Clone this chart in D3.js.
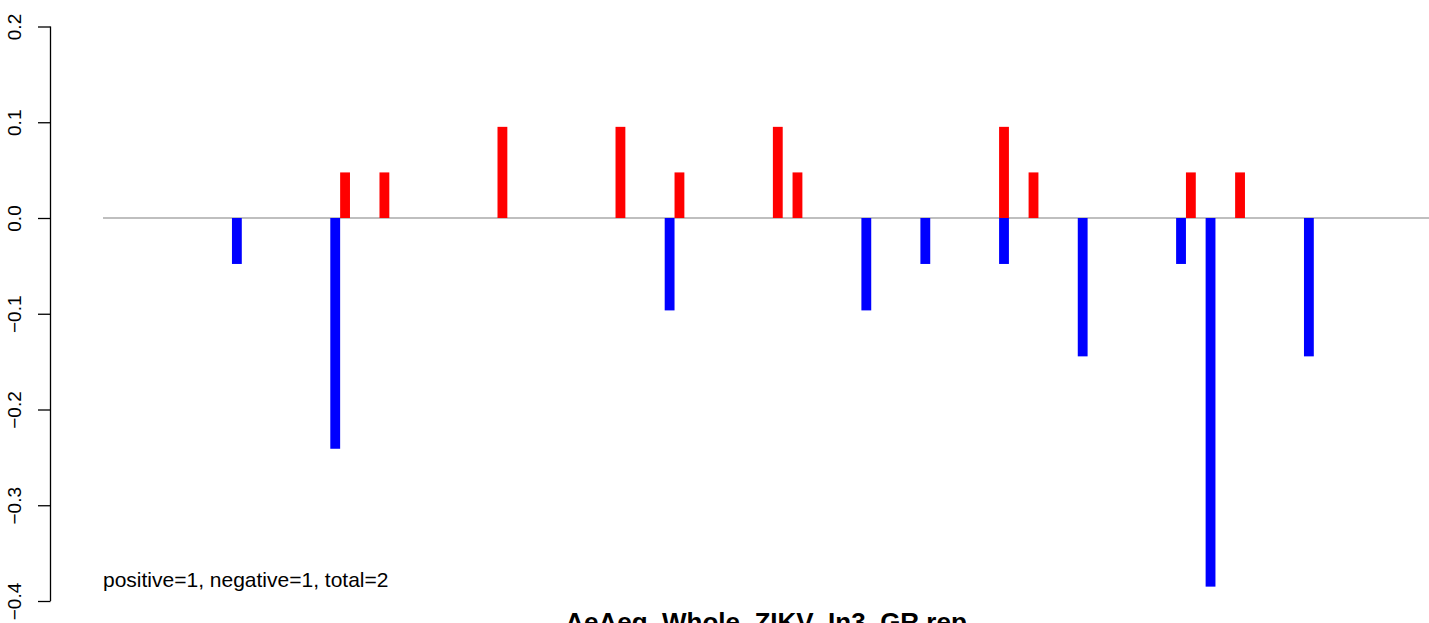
<!DOCTYPE html>
<html>
<head>
<meta charset="utf-8">
<script src="https://cdn.jsdelivr.net/npm/d3@7"></script>
<style>
  html, body { margin: 0; padding: 0; background: #fff; }
  svg { display: block; }
</style>
</head>
<body>
<svg id="chart" width="1429" height="623"></svg>
<script>
// ---- data ----
const title = "AeAeg_Whole_ZIKV_In3_GR.rep";
const note = "positive=1, negative=1, total=2";
const yTicks = [0.2, 0.1, 0.0, -0.1, -0.2, -0.3, -0.4];
const yTickLabels = ["0.2", "0.1", "0.0", "\u22120.1", "\u22120.2", "\u22120.3", "\u22120.4"];
const positivePositions = [24, 28, 40, 52, 58, 68, 70, 91, 94, 110, 115];
const positiveValues = [0.0476, 0.0476, 0.0952, 0.0952, 0.0476, 0.0952, 0.0476, 0.0952, 0.0476, 0.0476, 0.0476];
const negativePositions = [13, 23, 57, 77, 83, 91, 99, 109, 112, 122];
const negativeValues = [-0.048, -0.241, -0.0965, -0.0965, -0.048, -0.048, -0.1445, -0.048, -0.385, -0.1445];
const positionCount = 135;

// ---- layout ----
const svg = d3.select("#chart");
const x = d3.scaleLinear().domain([0, positionCount]).range([104.1, 104.1 + positionCount * 9.835]);
const y = d3.scaleLinear().domain([-0.4, 0.2]).range([601, 26.5]);
const font = "'Liberation Sans', Arial, Helvetica, sans-serif";

// zero line
svg.append("line")
  .attr("x1", 103).attr("x2", 1429)
  .attr("y1", y(0)).attr("y2", y(0))
  .attr("stroke", "#808080").attr("stroke-width", 1.2);

// bars
const bw = x(1) - x(0);
svg.append("g").selectAll("rect")
  .data(positivePositions.map((p, i) => ({p, v: positiveValues[i]})))
  .join("rect")
  .attr("x", d => x(d.p)).attr("width", bw)
  .attr("y", d => y(d.v)).attr("height", d => y(0) - y(d.v))
  .attr("fill", "#ff0000");
svg.append("g").selectAll("rect")
  .data(negativePositions.map((p, i) => ({p, v: negativeValues[i]})))
  .join("rect")
  .attr("x", d => x(d.p)).attr("width", bw)
  .attr("y", y(0)).attr("height", d => y(d.v) - y(0))
  .attr("fill", "#0000ff");

// y axis
const axis = d3.axisLeft(y).tickValues(yTicks).tickSize(12.5)
  .tickFormat((d, i) => yTickLabels[i]);
const ag = svg.append("g").attr("transform", "translate(50.5,0)").call(axis);
ag.select(".domain").attr("d", `M0,${y(0.2)}V${y(-0.4)}`).attr("stroke", "#000").attr("stroke-width", 1.3);
ag.selectAll(".tick line").attr("stroke", "#000").attr("stroke-width", 1.3);
ag.selectAll(".tick text")
  .attr("x", null).attr("dy", null)
  .attr("transform", "translate(-29.5,0) rotate(-90)")
  .attr("text-anchor", "middle")
  .attr("font-family", font).attr("font-size", 19).attr("fill", "#000");

// note
svg.append("text").attr("x", 103).attr("y", 587)
  .attr("font-family", font).attr("font-size", 21).attr("fill", "#000")
  .text(note);

// title
svg.append("text").attr("x", 766).attr("y", 631)
  .attr("text-anchor", "middle")
  .attr("font-family", font).attr("font-size", 26).attr("font-weight", "bold").attr("fill", "#000")
  .text(title);
</script>
</body>
</html>
